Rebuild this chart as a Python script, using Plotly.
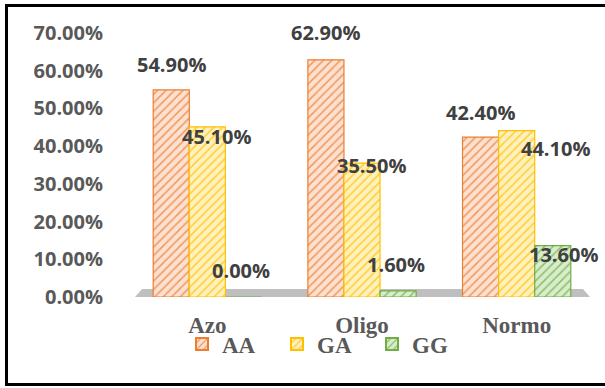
import plotly.graph_objects as go

# ---- data ----
categories = ["Azo", "Oligo", "Normo"]
series_names = ["AA", "GA", "GG"]
aa_values = [0.549, 0.629, 0.424]
ga_values = [0.451, 0.355, 0.441]
gg_values = [0.000, 0.016, 0.136]
y_ticks = [0.0, 0.1, 0.2, 0.3, 0.4, 0.5, 0.6, 0.7]

# ---- styles ----
W, H = 605, 388
ML, MR, MT, MB = 130, 11, 33, 91
plot_w = W - ML - MR
plot_h = H - MT - MB
bar_px = plot_w / 3 * 0.70 / 3

styles = {
    "AA": dict(bg="#FCE0D0", fg="#ED7D31", line="#ED7D31"),
    "GA": dict(bg="#FFF1BD", fg="#FFC000", line="#FFC000"),
    "GG": dict(bg="#D8EDCB", fg="#70AD47", line="#70AD47"),
}
# label offsets (dx, dy) in px relative to bar top-centre
label_offsets = {
    "AA": [(0, -25), (0, -27), (0, -25)],
    "GA": [(9, 10), (9, 2), (39, 18)],
    "GG": [(-2, -27), (-2, -26), (11, 9)],
}
group_shift = {"AA": -bar_px, "GA": 0, "GG": bar_px}

fig = go.Figure()
series_values = {"AA": aa_values, "GA": ga_values, "GG": gg_values}
for name in series_names:
    st = styles[name]
    fig.add_trace(go.Bar(
        name=name, x=categories, y=series_values[name],
        marker=dict(
            color=st["bg"],
            line=dict(color=st["line"], width=1.2),
            pattern=dict(shape="/", fgcolor=st["fg"], bgcolor=st["bg"],
                         size=6, solidity=0.25, fgopacity=0.75),
        ),
    ))

annotations = []
for name in series_names:
    for i, cat in enumerate(categories):
        v = series_values[name][i]
        dx, dy = label_offsets[name][i]
        annotations.append(dict(
            x=cat, y=v, xref="x", yref="y", text=f"{v*100:.2f}%",
            showarrow=False, xanchor="center", yanchor="middle",
            xshift=group_shift[name] + dx, yshift=-dy,
            font=dict(family="Open Sans", size=20, color="#404040", weight="bold"),
        ))

def px_to_paper_x(px):
    return (px - ML) / plot_w

def px_to_paper_y(py):
    return (H - MB - py) / plot_h

shapes = [
    # gray floor
    dict(type="path", xref="paper", yref="paper", layer="below",
         path=(f"M {px_to_paper_x(135)} {px_to_paper_y(297)} "
               f"L {px_to_paper_x(590)} {px_to_paper_y(297)} "
               f"L {px_to_paper_x(583)} {px_to_paper_y(289)} "
               f"L {px_to_paper_x(142)} {px_to_paper_y(289)} Z"),
         fillcolor="#BFBFBF", line=dict(width=0)),
    # outer border
    dict(type="rect", xref="paper", yref="paper",
         x0=px_to_paper_x(6.5), x1=px_to_paper_x(615),
         y0=px_to_paper_y(384.5), y1=px_to_paper_y(5.5),
         line=dict(color="black", width=3), fillcolor="rgba(0,0,0,0)"),
]

fig.update_layout(
    width=W, height=H,
    margin=dict(l=ML, r=MR, t=MT, b=MB),
    paper_bgcolor="white", plot_bgcolor="rgba(0,0,0,0)",
    barmode="group", bargap=0.30, bargroupgap=0,
    showlegend=True,
    legend=dict(orientation="h", x=px_to_paper_x(182), xanchor="left",
                y=px_to_paper_y(344), yanchor="middle",
                font=dict(family="Liberation Serif", size=23, color="#595959", weight="bold"),
                entrywidth=50, entrywidthmode="pixels",
                itemsizing="constant", bgcolor="rgba(0,0,0,0)", tracegroupgap=0),
    annotations=annotations,
    shapes=shapes,
    xaxis=dict(showgrid=False, zeroline=False, showline=False, ticks="",
               tickfont=dict(family="Liberation Serif", size=23, color="#595959", weight="bold"),
               ticklabelstandoff=12, range=[-0.5, 2.5]),
    yaxis=dict(range=[0, 0.70], tickvals=y_ticks, tickformat=".2%",
               showgrid=False, zeroline=False, showline=False, ticks="",
               tickfont=dict(family="Open Sans", size=20, color="#595959", weight="bold"),
               ticklabelstandoff=26),
)

fig.write_html("out.html")
